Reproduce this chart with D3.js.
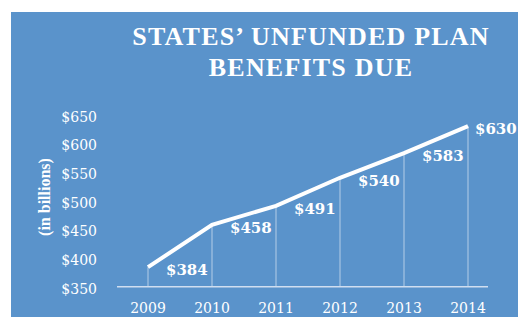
<!DOCTYPE html>
<html>
<head>
<meta charset="utf-8">
<script src="https://cdn.jsdelivr.net/npm/d3@7"></script>
<style>
  html, body { margin: 0; padding: 0; background: #ffffff; }
  svg { display: block; }
</style>
</head>
<body>
<svg id="chart" width="529" height="328"></svg>
<script>
const years = ["2009", "2010", "2011", "2012", "2013", "2014"];
const values = [384, 458, 491, 540, 583, 630];
const valueLabels = ["$384", "$458", "$491", "$540", "$583", "$630"];
const yTicks = [350, 400, 450, 500, 550, 600, 650];
const titleLines = ["STATES’ UNFUNDED PLAN", "BENEFITS DUE"];
const yAxisTitle = "(in billions)";

const svg = d3.select("#chart");
const bg = "#5a93cb";
const serif = "'DejaVu Serif', 'Liberation Serif', serif";
const times = "'Liberation Serif', 'DejaVu Serif', serif";

svg.append("rect").attr("x", 11).attr("y", 12).attr("width", 507).attr("height", 305).attr("fill", bg);

const x = d3.scalePoint().domain(years).range([148, 468]);
const y = d3.scaleLinear().domain([350, 650]).range([286.7, 114.7]);

// title
svg.append("g").selectAll("text").data(titleLines).join("text")
  .attr("x", 311).attr("y", (d, i) => 45 + i * 31)
  .attr("text-anchor", "middle")
  .attr("fill", "#ffffff")
  .attr("font-family", times).attr("font-weight", "bold")
  .attr("font-size", 26).attr("letter-spacing", 1.2)
  .text(d => d);

// y axis title
svg.append("text")
  .attr("transform", "translate(50,197) rotate(-90)")
  .attr("text-anchor", "middle")
  .attr("fill", "#ffffff")
  .attr("font-family", times).attr("font-weight", "bold")
  .attr("font-size", 16)
  .text(yAxisTitle);

// y tick labels
svg.append("g").selectAll("text").data(yTicks).join("text")
  .attr("x", 97).attr("y", d => y(d) + 7)
  .attr("text-anchor", "end")
  .attr("fill", "#ffffff")
  .attr("font-family", serif).attr("font-size", 14)
  .text(d => "$" + d);

// drop lines
svg.append("g").selectAll("line").data(values).join("line")
  .attr("x1", (d, i) => x(years[i])).attr("x2", (d, i) => x(years[i]))
  .attr("y1", d => y(d)).attr("y2", y(350))
  .attr("stroke", "#ffffff").attr("stroke-opacity", 0.55).attr("stroke-width", 1);

// x axis line
svg.append("line")
  .attr("x1", 117).attr("x2", 488).attr("y1", y(350)).attr("y2", y(350))
  .attr("stroke", "#d0def0").attr("stroke-width", 1.5);

// x labels
svg.append("g").selectAll("text").data(years).join("text")
  .attr("x", d => x(d)).attr("y", 313)
  .attr("text-anchor", "middle")
  .attr("fill", "#ffffff")
  .attr("font-family", serif).attr("font-size", 14)
  .text(d => d);

// line
const line = d3.line().x((d, i) => x(years[i])).y(d => y(d));
svg.append("path").datum(values)
  .attr("d", line)
  .attr("fill", "none").attr("stroke", "#ffffff").attr("stroke-width", 4)
  .attr("stroke-linejoin", "miter");

// value labels
svg.append("g").selectAll("text").data(values).join("text")
  .attr("x", (d, i) => x(years[i]) + (i === values.length - 1 ? 7 : 18))
  .attr("y", d => y(d) + 8)
  .attr("fill", "#ffffff")
  .attr("font-family", serif).attr("font-weight", "bold")
  .attr("font-size", 15)
  .text((d, i) => valueLabels[i]);
</script>
</body>
</html>
